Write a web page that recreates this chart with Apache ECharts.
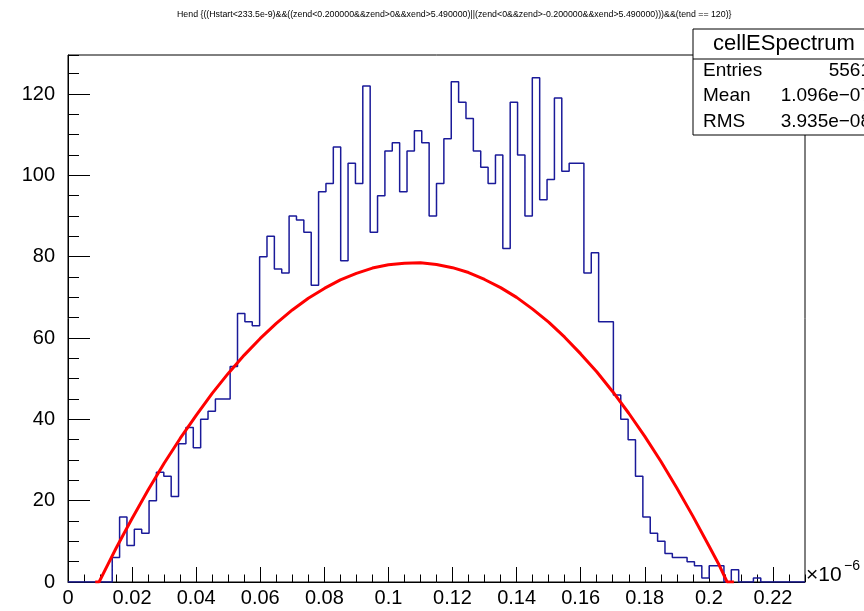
<!DOCTYPE html>
<html>
<head>
<meta charset="utf-8">
<title>cellESpectrum</title>
<script src="https://cdn.jsdelivr.net/npm/echarts@6/dist/echarts.min.js"></script>
<style>
  html, body { margin: 0; padding: 0; background: #fff; }
  #chart { width: 864px; height: 611px; }
</style>
</head>
<body>
<div id="chart"></div>
<script>
// histogram: 100 bins from 0 to 0.23 (x 1e-6)
var binWidth = 0.0023;
var counts = [
  0, 0, 0, 0, 0, 0, 6, 16, 9, 13,
  12, 20, 27, 26, 21, 34, 38, 33, 40, 42,
  45, 45, 53, 66, 64, 63, 80, 85, 77, 76,
  90, 89, 86, 73, 96, 98, 107, 79, 103, 98,
  122, 86, 95, 106, 108, 96, 106, 111, 108, 90,
  98, 109, 123, 118, 114, 106, 102, 98, 105, 82,
  118, 105, 90, 124, 94, 99, 119, 101, 103, 103,
  76, 81, 64, 64, 46, 40, 35, 26, 16, 12,
  10, 7, 6, 6, 5, 4, 1, 4, 4, 0,
  3, 0, 0, 1, 0, 0, 0, 0, 0, 0
];

// fit curve
var fitX = [0.0085, 0.0097, 0.0125, 0.015, 0.0175, 0.02, 0.025, 0.03, 0.035, 0.04, 0.045, 0.05,
  0.055, 0.06, 0.065, 0.07, 0.075, 0.08, 0.085, 0.09, 0.095, 0.1,
  0.105, 0.11, 0.115, 0.12, 0.125, 0.13, 0.135, 0.14, 0.145, 0.15,
  0.155, 0.16, 0.165, 0.17, 0.175, 0.18, 0.185, 0.19, 0.195, 0.2,
  0.203, 0.2057, 0.2078];
var fitY = [0, 0, 4.4, 8.3, 12.0, 15.6, 22.6, 29.2, 35.3, 41.0, 46.4, 51.3,
  55.8, 59.9, 63.6, 66.9, 69.8, 72.2, 74.3, 75.9, 77.2, 78.0,
  78.4, 78.5, 78.1, 77.3, 76.1, 74.4, 72.4, 70.0, 67.1, 63.9,
  60.2, 56.1, 51.7, 46.8, 41.5, 35.8, 29.7, 23.1, 16.2, 8.9,
  4.5, 0, 0];

var statNames = ["Entries", "Mean", "RMS"];
var statValues = ["5561", "1.096e\u221207", "3.935e\u221208"];

var titleText = "Hend {((Hstart<233.5e-9)&&((zend<0.200000&&zend>0&&xend>5.490000)||(zend<0&&zend>-0.200000&&xend>5.490000)))&&(tend == 120)}";

var histData = counts.map(function (c, i) { return [i * binWidth, c]; });
histData.push([counts.length * binWidth, 0]);
var fitData = fitX.map(function (x, i) { return [x, fitY[i]]; });

var font = "Liberation Sans";
var chart = echarts.init(document.getElementById("chart"));

var statGraphics = [
  {
    type: "rect",
    shape: { x: 693, y: 29, width: 200, height: 106 },
    style: { fill: "#fff", stroke: "#000", lineWidth: 1 },
    z: 100
  },
  {
    type: "line",
    shape: { x1: 693, y1: 59, x2: 864, y2: 59 },
    style: { stroke: "#000", lineWidth: 1 },
    z: 101
  },
  {
    type: "text",
    x: 784, y: 44,
    style: { text: "cellESpectrum", font: "22px '" + font + "'", fill: "#000", align: "center", verticalAlign: "middle" },
    z: 101
  },
  {
    type: "text",
    x: 806, y: 575,
    style: { text: "\u00d710", font: "21px '" + font + "'", fill: "#000", align: "left", verticalAlign: "middle" },
    z: 101
  },
  {
    type: "text",
    x: 844, y: 566,
    style: { text: "\u22126", font: "14px '" + font + "'", fill: "#000", align: "left", verticalAlign: "middle" },
    z: 101
  }
];
statNames.forEach(function (name, i) {
  statGraphics.push({
    type: "text",
    x: 703, y: 70.5 + i * 25.5,
    style: { text: name, font: "19px '" + font + "'", fill: "#000", align: "left", verticalAlign: "middle" },
    z: 101
  });
  statGraphics.push({
    type: "text",
    x: 871, y: 70.5 + i * 25.5,
    style: { text: statValues[i], font: "19px '" + font + "'", fill: "#000", align: "right", verticalAlign: "middle" },
    z: 101
  });
});

chart.setOption({
  animation: false,
  backgroundColor: "#fff",
  textStyle: { fontFamily: font },
  title: {
    text: titleText,
    left: 172,
    top: 5,
    textStyle: { fontSize: 8.8, fontWeight: "normal", color: "#000", fontFamily: font }
  },
  grid: {
    left: 68,
    right: 59,
    top: 55,
    bottom: 29,
    show: true,
    borderColor: "#000",
    borderWidth: 1,
    backgroundColor: "#fff",
    containLabel: false,
    outerBoundsMode: "none"
  },
  xAxis: [
    {
      type: "value",
      min: 0,
      max: 0.23,
      interval: 0.02,
      axisLine: { show: true, lineStyle: { color: "#000", width: 1 } },
      axisTick: { show: true, inside: true, length: 15, lineStyle: { color: "#000" } },
      minorTick: { show: false },
      splitLine: { show: false },
      axisLabel: {
        show: true,
        color: "#000",
        fontSize: 20,
        fontFamily: font,
        margin: 6,
        showMaxLabel: false,
        formatter: function (v) { return String(parseFloat(v.toFixed(3))); }
      }
    },
    {
      type: "value",
      position: "bottom",
      min: 0,
      max: 0.23,
      interval: 0.005,
      axisLine: { show: false },
      axisTick: { show: true, inside: true, length: 7.5, lineStyle: { color: "#000" } },
      axisLabel: { show: false },
      splitLine: { show: false }
    }
  ],
  yAxis: [
    {
      type: "value",
      min: 0,
      max: 129.6,
      interval: 20,
      axisLine: { show: true, lineStyle: { color: "#000", width: 1 } },
      axisTick: { show: true, inside: true, length: 22, lineStyle: { color: "#000" } },
      splitLine: { show: false },
      axisLabel: {
        show: true,
        color: "#000",
        fontSize: 20,
        fontFamily: font,
        margin: 13,
        showMaxLabel: false
      }
    },
    {
      type: "value",
      position: "left",
      min: 0,
      max: 129.6,
      interval: 5,
      axisLine: { show: false },
      axisTick: { show: true, inside: true, length: 11, lineStyle: { color: "#000" } },
      axisLabel: { show: false },
      splitLine: { show: false }
    }
  ],
  series: [
    {
      name: "cellESpectrum",
      type: "line",
      xAxisIndex: 0,
      yAxisIndex: 0,
      step: "end",
      data: histData,
      showSymbol: false,
      symbol: "none",
      lineStyle: { color: "#1a1a99", width: 1.5 },
      z: 2
    },
    {
      name: "fit",
      type: "line",
      xAxisIndex: 0,
      yAxisIndex: 0,
      data: fitData,
      smooth: false,
      showSymbol: false,
      symbol: "none",
      lineStyle: { color: "#ff0000", width: 3 },
      z: 3
    }
  ],
  graphic: statGraphics
});
</script>
</body>
</html>
